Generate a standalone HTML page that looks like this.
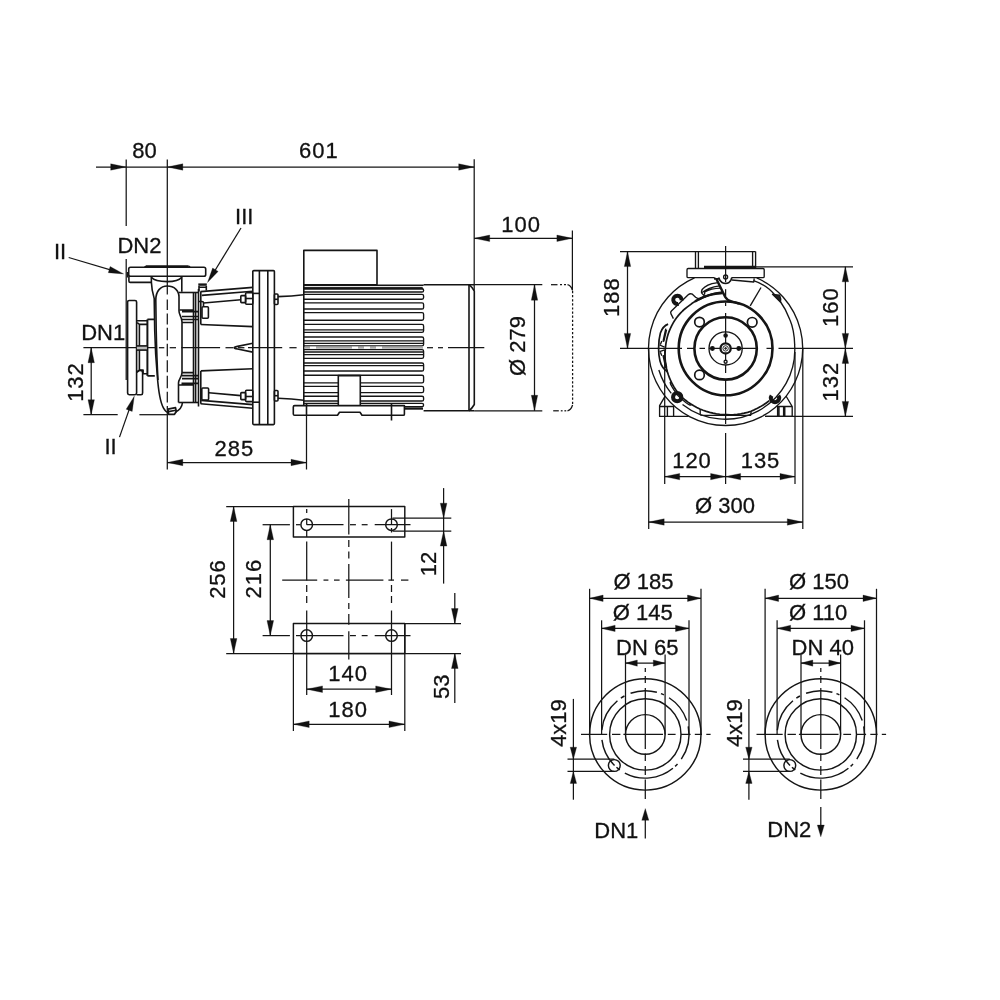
<!DOCTYPE html>
<html lang="en">
<head>
<meta charset="utf-8">
<title>Pump dimension drawing</title>
<style>
html,body{margin:0;padding:0;background:#fff;}
body{width:1000px;height:1000px;overflow:hidden;}
svg{display:block;filter:grayscale(1);}
svg line,svg path,svg circle,svg rect,svg polyline{fill:none;stroke:#151515;stroke-width:1.25;stroke-linecap:butt;stroke-linejoin:round;}
svg .a{fill:#111;stroke:#111;stroke-width:0.3;}
svg .b line,svg .b path,svg .b circle,svg .b rect{stroke-width:1.6;}
svg .bf line,svg .bf path,svg .bf circle,svg .bf rect{stroke-width:1.35;}
svg .b .f line,svg .b .f path{stroke-width:1.35;}
svg .k,svg .b .k{stroke-width:2.4;}
svg .m,svg .b .m{stroke-width:1.7;}
svg .t,svg .b .t{stroke-width:0.9;}
svg .w{fill:#fff;}
svg .c{stroke-width:1.45;}
svg .e{stroke-width:1.45;}
svg .g{stroke:#9a9a9a;}
svg text{font-family:"Liberation Sans",sans-serif;font-size:22px;fill:#111;stroke:#111;stroke-width:0.3;}
</style>
</head>
<body>
<svg width="1000" height="1000" viewBox="0 0 1000 1000">
<rect x="0" y="0" width="1000" height="1000" style="fill:#fff;stroke:none"/>
<g id="side">
<line x1="96" y1="167" x2="474.2" y2="167"/>
<polygon class="a" points="126.2,167 110.7,170.2 110.7,163.8"/>
<polygon class="a" points="167.3,167 182.8,163.8 182.8,170.2"/>
<polygon class="a" points="474.2,167 458.7,170.2 458.7,163.8"/>
<line x1="126.2" y1="159.5" x2="126.2" y2="226"/>
<line x1="126.2" y1="259" x2="126.2" y2="380"/>
<line x1="167.3" y1="159.5" x2="167.3" y2="294.6"/>
<line x1="167.3" y1="299.6" x2="167.3" y2="310"/>
<line x1="167.3" y1="313.4" x2="167.3" y2="324.4"/>
<line x1="167.3" y1="327.8" x2="167.3" y2="340.2"/>
<line x1="167.3" y1="343.8" x2="167.3" y2="356.2"/>
<line x1="167.3" y1="360.2" x2="167.3" y2="372.2"/>
<line x1="167.3" y1="375.8" x2="167.3" y2="388.2"/>
<line x1="167.3" y1="391.8" x2="167.3" y2="402.6"/>
<line x1="167.3" y1="406" x2="167.3" y2="469.5"/>
<line x1="474.2" y1="159.3" x2="474.2" y2="290"/>
<text x="144.4" y="157.5" text-anchor="middle">80</text>
<text x="318.9" y="157.7" text-anchor="middle" letter-spacing="1">601</text>
<line x1="474.2" y1="238.3" x2="572.4" y2="238.3"/>
<polygon class="a" points="474.2,238.3 489.7,235.1 489.7,241.5"/>
<polygon class="a" points="572.4,238.3 556.9,241.5 556.9,235.1"/>
<line x1="572.4" y1="230.5" x2="572.4" y2="290"/>
<text x="521.1" y="232.2" text-anchor="middle" letter-spacing="1">100</text>
<line x1="83.4" y1="347.7" x2="155.3" y2="347.7"/>
<line x1="158.9" y1="347.7" x2="164.3" y2="347.7"/>
<line x1="169.7" y1="347.7" x2="176" y2="347.7"/>
<line x1="181.4" y1="347.7" x2="220.1" y2="347.7"/>
<line x1="225.5" y1="347.7" x2="233" y2="347.7"/>
<line x1="238" y1="347.7" x2="244.4" y2="347.7"/>
<line x1="248" y1="347.7" x2="282.2" y2="347.7"/>
<line x1="289.4" y1="347.7" x2="296.6" y2="347.7"/>
<line x1="427" y1="347.7" x2="433" y2="347.7"/>
<line x1="438" y1="347.7" x2="443" y2="347.7"/>
<line x1="448" y1="347.7" x2="484.3" y2="347.7"/>
<line x1="91.2" y1="347.7" x2="91.2" y2="414.7"/>
<polygon class="a" points="91.2,347.7 94.4,362.7 88,362.7"/>
<polygon class="a" points="91.2,414.7 88,399.7 94.4,399.7"/>
<text x="83.2" y="382.5" text-anchor="middle" transform="rotate(-90 82.7 382.5)" letter-spacing="1">132</text>
<line x1="83.4" y1="414.7" x2="117.7" y2="414.7"/>
<line x1="139.4" y1="414.7" x2="167.3" y2="414.7"/>
<line x1="167.3" y1="462.5" x2="306.5" y2="462.5"/>
<polygon class="a" points="167.3,462.5 182.8,459.3 182.8,465.7"/>
<polygon class="a" points="306.5,462.5 291,465.7 291,459.3"/>
<line x1="306.5" y1="404" x2="306.5" y2="469.5"/>
<text x="234.3" y="455.5" text-anchor="middle" letter-spacing="1">285</text>
<line x1="474.2" y1="284.7" x2="542.3" y2="284.7"/>
<line x1="474.2" y1="410.8" x2="542.3" y2="410.8"/>
<line x1="534.5" y1="284.7" x2="534.5" y2="410.8"/>
<polygon class="a" points="534.5,284.7 537.7,300.2 531.3,300.2"/>
<polygon class="a" points="534.5,410.8 531.3,395.3 537.7,395.3"/>
<text x="525.4" y="346" text-anchor="middle" transform="rotate(-90 525.4 346)">&#216; 279</text>
<line x1="551" y1="284.7" x2="557.5" y2="284.7"/>
<line x1="560" y1="284.7" x2="562" y2="284.7"/>
<line x1="564" y1="284.7" x2="566" y2="284.7"/>
<path d="M567.5,284.7 Q571,285.5 572.6,290.5"/>
<line x1="572.6" y1="291" x2="572.6" y2="404.5" stroke-dasharray="2.2 1.9"/>
<line x1="553.2" y1="410.8" x2="558.8" y2="410.8"/>
<line x1="560.8" y1="410.8" x2="562.6" y2="410.8"/>
<line x1="564.4" y1="410.8" x2="566.2" y2="410.8"/>
<path d="M567.5,410.8 Q571,410 572.6,405"/>
<text x="60.1" y="258.6" text-anchor="middle">II</text>
<line x1="68.7" y1="257.5" x2="118" y2="272.2"/>
<polygon class="a" points="123.6,273.9 108.31,272.67 110.14,266.54"/>
<text x="244.2" y="223.6" text-anchor="middle">III</text>
<line x1="241" y1="228" x2="211" y2="277"/>
<polygon class="a" points="207.5,282.5 212.63,268.05 218.08,271.4"/>
<text x="110.5" y="454" text-anchor="middle">II</text>
<line x1="119.5" y1="437.1" x2="131" y2="404.4"/>
<polygon class="a" points="134.3,396.2 132.19,411.39 126.17,409.21"/>
<text x="139.4" y="252.5" text-anchor="middle">DN2</text>
<text x="103.2" y="339.7" text-anchor="middle">DN1</text>
<g class="b">
<path d="M146,266.2 L188.6,266.2" class="k" style="stroke-width:1.9"/>
<path d="M144.6,267.3 L146,266 M188.6,266 L190,267.3"/>
<rect x="128.7" y="267.3" width="77" height="9" rx="1.8"/>
<path d="M128.9,276.3 L128.9,281 Q128.9,282.4 130.3,282.4 L151.3,282.4"/>
<path d="M127.6,272 L127.6,277.5" style="stroke-width:1.6"/>
<path d="M151.3,276.3 L151.4,282.4 C151.6,288 152.6,293 154.2,298.4 L154.7,330 C155.2,350 156.3,365 157.3,376 C158.5,392 160,402 163.5,408 C165,411 166.5,412.3 168.5,412.8"/>
<path d="M151.3,277.3 C154,280.6 160,281.6 167.3,281.6 C174,281.6 179,280.6 181.8,277.2"/>
<line x1="181.8" y1="276.3" x2="181.8" y2="291.8"/>
<path d="M156.2,330 L155.8,300 C155.8,291 160.5,286 167.3,286 C174.2,286 179,290.5 179,297 L179,311 C179,315 182,317 182,322 L182,372.5 C182,377 178.5,379 178.5,383 L178.5,402.5"/>
<path d="M156.2,330 C156.6,350 157.2,366 158,380"/>
<path d="M182.5,402.5 C182,407 179,410.5 175.5,412"/>
<path d="M168,409.2 L175.5,407.6 L176.3,411.5 L174.5,414.3 L168.5,414.3 Z" class="m"/>
<line x1="168.5" y1="411.6" x2="175.8" y2="410.3"/>
<path d="M179,292.5 L198.5,292.5"/>
<path d="M179.5,310 L193.5,310 M182,311.6 L198.5,311.6 M182,316.5 L198.5,316.5 M182,319.5 L198.5,319.5 M182,322.5 L193.5,322.5"/>
<path d="M178.5,402.5 L198.5,402.5"/>
<path d="M178.5,385 L193.5,385 M181.5,383.4 L198.5,383.4 M182,378.6 L198.5,378.6 M182,375.6 L198.5,375.6 M182,372.6 L193.5,372.6"/>
<line x1="193.5" y1="292.5" x2="193.5" y2="402.5"/>
<line x1="195.6" y1="292.5" x2="195.6" y2="402.5"/>
<line x1="198.5" y1="289" x2="198.5" y2="406.5"/>
<path d="M198.3,284.6 L206.8,284.6" class="k"/>
<path d="M199,286 L199,291.5 M206.3,286 L206.3,290.6 M199,287.3 L206.3,287.3"/>
<path d="M200.5,291.6 L252.8,287.4 M201.8,295.4 L252.8,291.2 M203.6,303 L240.8,299.7"/>
<path d="M198.5,301.5 L202,301.5 Q203.5,301.5 203.5,303 L203.5,306"/>
<rect x="202" y="306.8" width="6.4" height="11.4" rx="1"/>
<line x1="200.8" y1="291.6" x2="200.8" y2="324.5"/>
<rect x="240.8" y="295.6" width="4.8" height="7" rx="0.8"/>
<rect x="245.6" y="292.8" width="7.2" height="11.4" rx="1"/>
<line x1="245.6" y1="298.5" x2="252.8" y2="298.5"/>
<path d="M200.8,324.5 L252.8,326.6 M200.8,370.9 L252.8,368.8"/>
<path d="M252.8,343.3 L237.5,346.4 Q230.5,347.7 237.5,349 L252.8,352.1"/>
<path d="M200.6,403.8 L252.8,408.2 M201.2,400.4 L252.8,404.6 M208.8,392.8 L240.8,395.6"/>
<rect x="201.8" y="388" width="6.8" height="12" rx="1"/>
<line x1="200.8" y1="370.9" x2="200.8" y2="403.8"/>
<rect x="240.8" y="392.6" width="4.8" height="7" rx="0.8"/>
<rect x="245.6" y="390.2" width="7.2" height="11.4" rx="1"/>
<line x1="245.6" y1="396.5" x2="252.8" y2="396.5"/>
<rect x="252.8" y="270.6" width="21.6" height="154" rx="1"/>
<line x1="259.4" y1="270.6" x2="259.4" y2="424.6"/>
<line x1="267.8" y1="270.6" x2="267.8" y2="424.6"/>
<line x1="252.8" y1="293.4" x2="259.4" y2="293.4"/>
<line x1="252.8" y1="402.2" x2="259.4" y2="402.2"/>
<rect x="274.4" y="294" width="3.6" height="10.5" rx="1"/>
<line x1="274.4" y1="299.3" x2="278" y2="299.3"/>
<rect x="274.4" y="390.5" width="3.6" height="10.5" rx="1"/>
<line x1="274.4" y1="395.7" x2="278" y2="395.7"/>
<path d="M278,296.6 Q292,296.4 303.8,294.8"/>
<path d="M278,398.2 Q292,398.6 303.8,400.2"/>
<rect x="127.6" y="300.5" width="9" height="94.2" rx="1.6"/>
<path d="M136.6,372.2 L139.6,370.3 L141.2,370.6 Q142.6,371 142.6,373 L142.6,393 Q142.6,394.7 141,394.7 L136.6,394.7"/>
<path d="M136.8,320.7 L147.4,320.7 M137.2,322.6 L139.4,324.4 L147.4,324.4 M139.4,324.4 L139.4,370.1 M137.2,371.8 L139.4,370.1 L143.1,370.1 L143.1,373.8 L147.4,373.8"/>
<path d="M147.4,319.4 L147.4,375.9" style="stroke-width:2"/>
<path d="M147.4,319.4 L154.4,319.4 M147.4,375.9 L154.8,375.9"/>
<rect x="136.9" y="345.9" width="10" height="4.2" class="g" style="fill:#bbb;stroke:none"/>
<line x1="136.9" y1="345.9" x2="147" y2="345.9"/>
<line x1="136.9" y1="350.1" x2="147" y2="350.1"/>
<rect x="303.8" y="250.4" width="73.2" height="34.4"/>
<line x1="303.8" y1="284.8" x2="303.8" y2="406"/>
<g class="f">
<path d="M303.8,288.7 L422,288.7 Q423.6,288.7 423.6,290.3 L423.6,290.4 Q423.6,292 422,292 L303.8,292"/>
<path d="M303.8,403.4 L422,403.4 Q423.6,403.4 423.6,405 L423.6,405.1 Q423.6,406.7 422,406.7 L303.8,406.7"/>
<path d="M303.8,294.4 L422,294.4 Q423.6,294.4 423.6,296 L423.6,297.6 Q423.6,299.2 422,299.2 L303.8,299.2"/>
<path d="M303.8,396.2 L422,396.2 Q423.6,396.2 423.6,397.8 L423.6,399.4 Q423.6,401 422,401 L303.8,401"/>
<path d="M303.8,302.8 L422,302.8 Q423.6,302.8 423.6,304.4 L423.6,307.4 Q423.6,309 422,309 L303.8,309"/>
<path d="M303.8,386.4 L422,386.4 Q423.6,386.4 423.6,388 L423.6,391 Q423.6,392.6 422,392.6 L303.8,392.6"/>
<path d="M303.8,312.6 L422,312.6 Q423.6,312.6 423.6,314.2 L423.6,318.6 Q423.6,320.2 422,320.2 L303.8,320.2"/>
<path d="M303.8,375.2 L422,375.2 Q423.6,375.2 423.6,376.8 L423.6,381.2 Q423.6,382.8 422,382.8 L303.8,382.8"/>
<path d="M303.8,324.4 L422,324.4 Q423.6,324.4 423.6,326 L423.6,330.8 Q423.6,332.4 422,332.4 L303.8,332.4"/>
<line x1="303.8" y1="329.8" x2="423.6" y2="329.8"/>
<path d="M303.8,363 L422,363 Q423.6,363 423.6,364.6 L423.6,369.4 Q423.6,371 422,371 L303.8,371"/>
<line x1="303.8" y1="365.6" x2="423.6" y2="365.6"/>
<path d="M303.8,337 L422,337 Q423.6,337 423.6,338.6 L423.6,344.2 Q423.6,345.8 422,345.8 L303.8,345.8"/>
<line x1="303.8" y1="340.8" x2="423.6" y2="340.8"/>
<line x1="303.8" y1="343.4" x2="423.6" y2="343.4"/>
<path d="M303.8,349.6 L422,349.6 Q423.6,349.6 423.6,351.2 L423.6,356.8 Q423.6,358.4 422,358.4 L303.8,358.4"/>
<line x1="303.8" y1="354.6" x2="423.6" y2="354.6"/>
<line x1="303.8" y1="352" x2="423.6" y2="352"/>
<line x1="303.8" y1="285.2" x2="423.6" y2="285.2"/>
<line x1="303.8" y1="287.4" x2="422.6" y2="287.4" style="stroke-width:1"/>
<line x1="303.8" y1="288.6" x2="423" y2="288.6" style="stroke-width:1.9"/>
<line x1="303.8" y1="406.7" x2="423" y2="406.7" style="stroke-width:1.2"/>
<line x1="405" y1="408.7" x2="423" y2="408.7" style="stroke-width:2"/>
</g>
<line x1="304.5" y1="347.7" x2="423" y2="347.7" class="g" style="stroke-width:2;stroke:#aaa"/>
<line x1="310" y1="347.7" x2="316" y2="347.7" style="stroke:#fff;stroke-width:2.2"/>
<line x1="352" y1="347.7" x2="358" y2="347.7" style="stroke:#fff;stroke-width:2.2"/>
<line x1="364" y1="347.7" x2="370" y2="347.7" style="stroke:#fff;stroke-width:2.2"/>
<line x1="376" y1="347.7" x2="382" y2="347.7" style="stroke:#fff;stroke-width:2.2"/>
<rect x="338.3" y="375.6" width="22" height="30.5" class="w"/>
<path d="M423.6,284.7 L474.2,284.7 M423.6,410.8 L474.2,410.8"/>
<line x1="469" y1="284.7" x2="469" y2="410.8"/>
<path d="M469,284.7 Q472,287 474.3,291 L474.3,404.5 Q472,408.5 469,410.8"/>
<path d="M294.6,405.6 L404.4,405.6 L404.4,414.2 Q404.4,415.3 403.3,415.3 L362,415.3 L360,412.2 L339.5,412.2 L337.5,415.3 L294.6,415.3 Q293.3,415.3 293.3,414 L293.3,406.9 Q293.3,405.6 294.6,405.6 Z" class="w"/>
<line x1="391.5" y1="404" x2="391.5" y2="420.5"/>
<line x1="306.5" y1="404" x2="306.5" y2="415"/>
</g></g>
<g id="front">
<line x1="620" y1="251.6" x2="755.6" y2="251.6"/>
<line x1="620" y1="348.4" x2="682" y2="348.4"/>
<line x1="627.5" y1="251.6" x2="627.5" y2="348.4"/>
<polygon class="a" points="627.5,251.6 630.7,266.6 624.3,266.6"/>
<polygon class="a" points="627.5,348.4 624.3,333.4 630.7,333.4"/>
<text x="619.6" y="297.7" text-anchor="middle" transform="rotate(-90 619.1 297.7)" letter-spacing="1">188</text>
<line x1="687" y1="348.4" x2="694" y2="348.4"/>
<line x1="699.5" y1="348.4" x2="705" y2="348.4"/>
<line x1="709" y1="348.4" x2="758" y2="348.4"/>
<line x1="766.5" y1="348.4" x2="772.5" y2="348.4"/>
<line x1="778.5" y1="348.4" x2="853" y2="348.4"/>
<line x1="755" y1="266.8" x2="853" y2="266.8"/>
<line x1="765" y1="416.4" x2="853" y2="416.4"/>
<line x1="845.4" y1="266.8" x2="845.4" y2="348.4"/>
<polygon class="a" points="845.4,266.8 848.6,281.8 842.2,281.8"/>
<polygon class="a" points="845.4,348.4 842.2,333.4 848.6,333.4"/>
<line x1="845.4" y1="348.4" x2="845.4" y2="416.4"/>
<polygon class="a" points="845.4,348.4 848.6,363.4 842.2,363.4"/>
<polygon class="a" points="845.4,416.4 842.2,401.4 848.6,401.4"/>
<text x="838.1" y="307.7" text-anchor="middle" transform="rotate(-90 837.6 307.7)" letter-spacing="1">160</text>
<text x="838.1" y="382.2" text-anchor="middle" transform="rotate(-90 837.6 382.2)" letter-spacing="1">132</text>
<line x1="725.6" y1="246" x2="725.6" y2="282"/>
<line x1="725.6" y1="289.2" x2="725.6" y2="298"/>
<line x1="725.6" y1="302.4" x2="725.6" y2="306"/>
<line x1="725.6" y1="313" x2="725.6" y2="362.5"/>
<line x1="725.6" y1="365" x2="725.6" y2="373"/>
<line x1="725.6" y1="380" x2="725.6" y2="424"/>
<line x1="725.6" y1="433" x2="725.6" y2="484"/>
<line x1="648.7" y1="348.4" x2="648.7" y2="529"/>
<line x1="802.8" y1="348.4" x2="802.8" y2="529"/>
<line x1="664.7" y1="350" x2="664.7" y2="484"/>
<line x1="795" y1="352" x2="795" y2="484"/>
<line x1="664.7" y1="476.6" x2="725.6" y2="476.6"/>
<polygon class="a" points="664.7,476.6 679.7,473.4 679.7,479.8"/>
<polygon class="a" points="725.6,476.6 710.6,479.8 710.6,473.4"/>
<line x1="725.6" y1="476.6" x2="795" y2="476.6"/>
<polygon class="a" points="725.6,476.6 740.6,473.4 740.6,479.8"/>
<polygon class="a" points="795,476.6 780,479.8 780,473.4"/>
<line x1="648.7" y1="522" x2="802.8" y2="522"/>
<polygon class="a" points="648.7,522 664.2,518.8 664.2,525.2"/>
<polygon class="a" points="802.8,522 787.3,525.2 787.3,518.8"/>
<text x="692" y="468.2" text-anchor="middle" letter-spacing="1">120</text>
<text x="760.5" y="468.2" text-anchor="middle" letter-spacing="1">135</text>
<text x="725" y="513.2" text-anchor="middle">&#216; 300</text>
<g class="b bf">
<path d="M756.71,277.86 A77.1,77.1 0 1 1 694.49,277.86"/>
<circle cx="725.6" cy="348.4" r="46.9" class="k" style="stroke-width:2.6"/>
<circle cx="725.6" cy="348.4" r="31.2" class="k" style="stroke-width:2.6"/>
<circle cx="725.6" cy="348.4" r="16.6"/>
<circle cx="725.6" cy="348.4" r="5.1" class="w" style="stroke-width:2.3"/>
<circle cx="725.6" cy="348.4" r="2.7" class="t"/>
<circle cx="725.6" cy="348.4" r="0.9" class="t" style="fill:#333"/>
<circle cx="725.6" cy="335.4" r="1.6" style="fill:#111"/>
<circle cx="712.4" cy="348.4" r="1.8" style="fill:#111"/>
<circle cx="738.8" cy="348.4" r="1.8" style="fill:#111"/>
<circle cx="725.6" cy="361.7" r="1.5" class="w"/>
<circle cx="699.5" cy="322.1" r="4.8" class="m"/>
<circle cx="752.2" cy="322.3" r="4.8" class="m"/>
<circle cx="699.5" cy="374.9" r="4.8" class="m"/>
<path d="M794.63,344.85 A69.5,69.5 0 0 1 682.51,404.47"/>
<path d="M671.29,393.44 A69.5,69.5 0 0 1 658.84,370.02"/>
<path d="M794.7,345 C794.4,335 792.6,326 790,320 C787,312 784,306.5 780,301 C776,296 772.5,292 769,289 C764,285 759,282.3 753.5,280.6"/>
<line x1="761" y1="287.5" x2="750.2" y2="305.8"/>
<path d="M772.5,294.3 L779.6,295.2 Q781.3,298.5 780.4,302 Z" style="fill:#222"/>
<path d="M721.74,293.14 L718.84,293.36 L715.96,293.72 L713.09,294.23 L710.26,294.9 L707.46,295.71 L704.7,296.67 L701.99,297.77 L699.34,299.02 L696.76,300.4 L694.25,301.92 L691.82,303.57 L689.48,305.35 L687.09,307.1 L684.78,308.99 L682.57,311 L680.46,313.13 L678.46,315.39 L676.57,317.76 L674.81,320.25 L673.21,322.85 L671.74,325.54 L670.41,328.31 L669.22,331.16 L668.18,334.08 L667.3,337.07 L666.57,340.1 L665.99,343.19 L665.58,346.3 L665.29,349.45 L665.09,352.63 L665.05,355.84 L665.18,359.05 L665.48,362.28 L665.95,365.5 L666.6,368.71 L667.43,371.9 L668.42,375.06 L669.59,378.18 L670.93,381.25 L672.43,384.26 L674.11,387.2 L675.94,390.07 L677.94,392.85 L680.16,395.46 L682.65,397.81 L685.26,400.03 L687.99,402.12 L690.82,404.06 L693.76,405.85 L696.78,407.48 L699.89,408.96 L703.08,410.27 L706.33,411.42 L709.64,412.39 L713.01,413.19 L716.41,413.81 L719.84,414.26 L723.29,414.52 L726.76,414.66 L730.24,414.74 L733.73,414.63 L737.23,414.33 L740.71,413.85 L744.18,413.19 L747.62,412.34 L750.98,411.21 L754.25,409.85 L757.46,408.32 L760.58,406.62 L763.61,404.76 L766.55,402.74 L769.37,400.57" class="m"/>
<path d="M722.7,293.11 L719.81,293.27 L716.92,293.58 L714.05,294.04 L711.2,294.66 L708.39,295.42 L705.61,296.33 L702.89,297.39 L700.22,298.59 L697.61,299.92 L695.08,301.4" class="k"/>
<path d="M688.99,404.77 L686.12,402.73 L683.37,400.55 L680.73,398.23 L678.22,395.78 L676.07,393 L674.07,390.13 L672.24,387.17 L670.57,384.14 l-0.4,-2.2"/>
<path d="M688.99,404.77 l1.8,0.4 l0.8,-1"/>
<path d="M716.4,279 L725.2,297 Q727.2,300.4 732,301.6 Q736,302.6 739,303.6" class="k"/>
<path d="M695.5,251.6 L695.5,268.4 M698.4,251.6 L698.4,268.4 M752.6,251.6 L752.6,268.4 M755.6,251.6 L755.6,268.4"/>
<path d="M704,266.9 L755.6,266.9" class="k"/>
<path d="M688.2,268.5 L763,268.5 Q764.2,268.5 764.2,269.7 L764.2,276.4 Q764.2,277.6 763,277.6 L731.5,277.6 M714.5,277.6 L688.2,277.6 Q687,277.6 687,276.4 L687,269.7 Q687,268.5 688.2,268.5"/>
<circle cx="725.6" cy="277" r="2"/>
<path d="M714.8,277.6 L714.8,278.9 L718.8,278.9 M718.6,277.6 Q719.6,281 722,282.4 Q725.6,284.4 729,282.4 Q731.2,281 731.8,277.6" class="m"/>
<path d="M732,280 L753.8,282 L754.2,278.4"/>
<path d="M701.5,291 Q703,286.5 712,283.6 L718,282.6 M702.2,292.6 Q708,287.5 719.5,285.8 M704.5,294.6 L704.8,291.8 Q711,288.6 720.5,288.2 M701.5,291 Q700.8,292.8 703,294.6 L705,296.5"/>
<path d="M699,299.8 Q709,293.6 722.3,292.2" class="m"/>
<path d="M673.4,318.6 L670.9,313.6 Q670.2,312.2 671.4,311 L688.2,294.8 Q690.2,293 692.4,294.2 L695.6,297.2 Q697.4,298.6 700.2,298.6"/>
<path d="M678.47,303.81 A4.15,4.15 0 1 1 681.49,300.52" style="stroke-width:4"/>
<circle cx="677.2" cy="397.2" r="4.15" style="stroke-width:4"/>
<path d="M778.4,395.62 A4.15,4.15 0 1 1 771.6,395.62" style="stroke-width:4"/>
<path d="M668.1,324.1 C664,325.5 661.8,329 660.4,333 C659,338 658.6,344 658.6,348.4 C658.6,353 659.2,358 660,361 C661,365 663.2,369 667.4,371.7" class="m"/>
<path d="M665.8,328.6 L663.2,340.4 Q662.9,341.6 663.9,341 L666.6,329.6 M665.8,368.2 L663.2,356.4 Q662.9,355.2 663.9,355.8 L666.6,367.2"/>
<path d="M659.6,345 L664.6,347.2 M659.6,351.6 L664.6,349.8 M661.8,341 L660.4,344.6 M661.8,355.8 L660.4,352.2"/>
<path d="M688.6,416.4 L659.6,416.4 L659.6,405.6 L665,396.4"/>
<path d="M659.6,406.5 L673.6,406.5 L673.6,416.4 M667.4,406.5 L667.4,416.4"/>
<path d="M765,416.4 L792.2,416.4 M786,396 L792.2,406.5 L792.2,416.4 M777.6,416.4 L777.6,406.5 L792.2,406.5 M779,406.5 L779,416.4 M783.6,406.5 L783.6,416.4 M784.8,406.5 L784.8,416.4"/>
<path d="M700.2,409 L700.2,413.8 Q700.2,415.4 702,415.4 L750.6,415.4 L751.2,411.4"/>
</g></g>
<g id="foot">
<rect x="293.4" y="506.5" width="111.4" height="30.4" class="e"/>
<rect x="293.4" y="623.5" width="111.4" height="30" class="e"/>
<circle cx="306.7" cy="524.7" r="5.8" class="e"/>
<circle cx="306.7" cy="635.6" r="5.8" class="e"/>
<circle cx="391.5" cy="524.7" r="5.8" class="e"/>
<circle cx="391.5" cy="635.6" r="5.8" class="e"/>
<line x1="226.2" y1="506.5" x2="293.4" y2="506.5"/>
<line x1="226.2" y1="653.5" x2="461" y2="653.5"/>
<line x1="233.6" y1="506.5" x2="233.6" y2="653.5"/>
<polygon class="a" points="233.6,506.5 236.9,521.5 230.3,521.5"/>
<polygon class="a" points="233.6,653.5 230.3,638.5 236.9,638.5"/>
<text x="225.1" y="579.5" text-anchor="middle" transform="rotate(-90 224.6 579.5)" letter-spacing="1">256</text>
<line x1="262.6" y1="524.7" x2="289.9" y2="524.7"/>
<line x1="262.6" y1="635.6" x2="289.9" y2="635.6"/>
<line x1="270.3" y1="524.7" x2="270.3" y2="635.6"/>
<polygon class="a" points="270.3,524.7 273.6,539.7 267,539.7"/>
<polygon class="a" points="270.3,635.6 267,620.6 273.6,620.6"/>
<text x="261.9" y="579.2" text-anchor="middle" transform="rotate(-90 261.4 579.2)" letter-spacing="1">216</text>
<line x1="296" y1="524.7" x2="300.4" y2="524.7"/>
<line x1="306.7" y1="524.7" x2="343.5" y2="524.7"/>
<line x1="350" y1="524.7" x2="355.9" y2="524.7"/>
<line x1="361.7" y1="524.7" x2="367.6" y2="524.7"/>
<line x1="374.7" y1="524.7" x2="410.5" y2="524.7"/>
<line x1="296" y1="635.6" x2="300.4" y2="635.6"/>
<line x1="300.8" y1="635.6" x2="343.5" y2="635.6"/>
<line x1="350" y1="635.6" x2="355.9" y2="635.6"/>
<line x1="361.7" y1="635.6" x2="367.6" y2="635.6"/>
<line x1="374.7" y1="635.6" x2="410.5" y2="635.6"/>
<line x1="282.2" y1="580.1" x2="317.2" y2="580.1"/>
<line x1="323.5" y1="580.1" x2="328.4" y2="580.1"/>
<line x1="334" y1="580.1" x2="339.6" y2="580.1"/>
<line x1="345.9" y1="580.1" x2="383.4" y2="580.1"/>
<line x1="388.4" y1="580.1" x2="394" y2="580.1"/>
<line x1="401" y1="580.1" x2="408.4" y2="580.1"/>
<line x1="348.8" y1="498.9" x2="348.8" y2="534.6"/>
<line x1="348.8" y1="540" x2="348.8" y2="547"/>
<line x1="348.8" y1="551.4" x2="348.8" y2="558.4"/>
<line x1="348.8" y1="564" x2="348.8" y2="598"/>
<line x1="348.8" y1="603" x2="348.8" y2="609"/>
<line x1="348.8" y1="614" x2="348.8" y2="624.7"/>
<line x1="348.8" y1="631.3" x2="348.8" y2="659.5"/>
<line x1="306.7" y1="509.1" x2="306.7" y2="513"/>
<line x1="306.7" y1="518.9" x2="306.7" y2="524.7"/>
<line x1="306.7" y1="530.6" x2="306.7" y2="536.9"/>
<line x1="306.7" y1="541.6" x2="306.7" y2="580.4"/>
<line x1="306.7" y1="585" x2="306.7" y2="592"/>
<line x1="306.7" y1="596" x2="306.7" y2="603"/>
<line x1="306.7" y1="610.5" x2="306.7" y2="695"/>
<line x1="391.5" y1="509.1" x2="391.5" y2="524.7"/>
<line x1="391.5" y1="528" x2="391.5" y2="532.5"/>
<line x1="391.5" y1="541.6" x2="391.5" y2="580.4"/>
<line x1="391.5" y1="585" x2="391.5" y2="592"/>
<line x1="391.5" y1="596" x2="391.5" y2="603"/>
<line x1="391.5" y1="610.5" x2="391.5" y2="695"/>
<line x1="306.7" y1="689.2" x2="391.5" y2="689.2"/>
<polygon class="a" points="306.7,689.2 322.5,685.9 322.5,692.5"/>
<polygon class="a" points="391.5,689.2 375.7,692.5 375.7,685.9"/>
<text x="348.2" y="681.4" text-anchor="middle" letter-spacing="1">140</text>
<line x1="293.4" y1="653.5" x2="293.4" y2="731"/>
<line x1="404.8" y1="623.5" x2="404.8" y2="731"/>
<line x1="293.4" y1="724.3" x2="404.8" y2="724.3"/>
<polygon class="a" points="293.4,724.3 309.2,721 309.2,727.6"/>
<polygon class="a" points="404.8,724.3 389,727.6 389,721"/>
<text x="348.2" y="716.9" text-anchor="middle" letter-spacing="1">180</text>
<line x1="392.5" y1="518.2" x2="451.3" y2="518.2"/>
<line x1="392.5" y1="531.1" x2="451.3" y2="531.1"/>
<line x1="443.6" y1="488.1" x2="443.6" y2="583.6"/>
<polygon class="a" points="443.6,518.2 440.3,503.2 446.9,503.2"/>
<polygon class="a" points="443.6,531.1 446.9,546.1 440.3,546.1"/>
<text x="436.4" y="564" text-anchor="middle" transform="rotate(-90 436.4 564)">12</text>
<line x1="404.8" y1="623.5" x2="461" y2="623.5"/>
<line x1="454.8" y1="593.1" x2="454.8" y2="623.5"/>
<line x1="454.8" y1="653.5" x2="454.8" y2="703"/>
<polygon class="a" points="454.8,623.5 451.5,608.5 458.1,608.5"/>
<polygon class="a" points="454.8,653.5 458.1,668.5 451.5,668.5"/>
<text x="449" y="686.7" text-anchor="middle" transform="rotate(-90 449 686.7)">53</text>
</g>
<g id="flanges">
<g>
<circle cx="645.3" cy="734.4" r="55.7" class="c"/>
<circle cx="645.3" cy="734.4" r="35.7" class="c"/>
<circle cx="645.3" cy="734.4" r="19.8" class="c"/>
<path d="M630.57,693.26 A43.7,43.7 0 0 1 656.9,692.27" class="c"/>
<path d="M660.96,693.6 A43.7,43.7 0 0 1 663.91,694.86" class="c"/>
<path d="M669.1,697.75 A43.7,43.7 0 0 1 686.74,720.53" class="c"/>
<path d="M688.25,726.36 A43.7,43.7 0 0 1 681.31,759.15" class="c"/>
<path d="M677.52,763.92 A43.7,43.7 0 0 1 675.1,766.36" class="c"/>
<path d="M672.92,768.27 A43.7,43.7 0 0 1 624.85,773.02" class="c"/>
<path d="M619.8,769.89 A43.7,43.7 0 0 1 616.46,767.23" class="c"/>
<path d="M614.56,765.46 A43.7,43.7 0 0 1 601.94,739.8" class="c"/>
<path d="M601.8,730.21 A43.7,43.7 0 0 1 617.44,700.73" class="c"/>
<path d="M620.86,698.17 A43.7,43.7 0 0 1 624.45,696" class="c"/>
<circle cx="614.3" cy="765.5" r="5.9" class="c"/>
<line x1="589.6" y1="588.8" x2="589.6" y2="734.4"/>
<line x1="701" y1="588.8" x2="701" y2="734.4"/>
<line x1="589.6" y1="598.3" x2="701" y2="598.3"/>
<polygon class="a" points="589.6,598.3 603.1,595.1 603.1,601.5"/>
<polygon class="a" points="701,598.3 687.5,601.5 687.5,595.1"/>
<text x="643.5" y="589.4" text-anchor="middle">&#216; 185</text>
<line x1="601.6" y1="620.3" x2="601.6" y2="734.4"/>
<line x1="689" y1="620.3" x2="689" y2="734.4"/>
<line x1="601.6" y1="628.4" x2="689" y2="628.4"/>
<polygon class="a" points="601.6,628.4 615.1,625.2 615.1,631.6"/>
<polygon class="a" points="689,628.4 675.5,631.6 675.5,625.2"/>
<text x="642.7" y="619.5" text-anchor="middle">&#216; 145</text>
<line x1="625.5" y1="654.5" x2="625.5" y2="734.4"/>
<line x1="665.1" y1="654.5" x2="665.1" y2="734.4"/>
<line x1="625.5" y1="663.1" x2="665.1" y2="663.1"/>
<polygon class="a" points="625.5,663.1 637.3,660 637.3,666.2"/>
<polygon class="a" points="665.1,663.1 653.3,666.2 653.3,660"/>
<text x="647.3" y="655.1" text-anchor="middle">DN 65</text>
<line x1="645.3" y1="668" x2="645.3" y2="672"/>
<line x1="645.3" y1="676" x2="645.3" y2="683"/>
<line x1="645.3" y1="688" x2="645.3" y2="749"/>
<line x1="645.3" y1="753.5" x2="645.3" y2="761"/>
<line x1="645.3" y1="766" x2="645.3" y2="775"/>
<line x1="645.3" y1="779.5" x2="645.3" y2="799"/>
<line x1="581" y1="734.4" x2="607.2" y2="734.4"/>
<line x1="612" y1="734.4" x2="620.4" y2="734.4"/>
<line x1="623.4" y1="734.4" x2="663" y2="734.4"/>
<line x1="667.8" y1="734.4" x2="675.6" y2="734.4"/>
<line x1="681" y1="734.4" x2="690.6" y2="734.4"/>
<line x1="694.8" y1="734.4" x2="702" y2="734.4"/>
<line x1="706.3" y1="734.4" x2="710.6" y2="734.4"/>
<line x1="567.5" y1="759.2" x2="614.3" y2="759.2"/>
<line x1="567.5" y1="771.4" x2="614.3" y2="771.4"/>
<line x1="573.4" y1="698.9" x2="573.4" y2="799.7"/>
<polygon class="a" points="573.4,759.2 570.2,747.2 576.6,747.2"/>
<polygon class="a" points="573.4,771.4 576.6,783.4 570.2,783.4"/>
<text x="566.2" y="723" text-anchor="middle" transform="rotate(-90 566.2 723)">4x19</text>
<line x1="645.3" y1="815" x2="645.3" y2="838.4"/>
<polygon class="a" points="645.3,808.6 648.8,820.3 641.8,820.3"/>
<text x="616.3" y="837.6" text-anchor="middle">DN1</text>
</g>
<g>
<circle cx="820.8" cy="734.4" r="55.7" class="c"/>
<circle cx="820.8" cy="734.4" r="35.7" class="c"/>
<circle cx="820.8" cy="734.4" r="19.8" class="c"/>
<path d="M806.07,693.26 A43.7,43.7 0 0 1 832.4,692.27" class="c"/>
<path d="M836.46,693.6 A43.7,43.7 0 0 1 839.41,694.86" class="c"/>
<path d="M844.6,697.75 A43.7,43.7 0 0 1 862.24,720.53" class="c"/>
<path d="M863.75,726.36 A43.7,43.7 0 0 1 856.81,759.15" class="c"/>
<path d="M853.02,763.92 A43.7,43.7 0 0 1 850.6,766.36" class="c"/>
<path d="M848.42,768.27 A43.7,43.7 0 0 1 800.35,773.02" class="c"/>
<path d="M795.3,769.89 A43.7,43.7 0 0 1 791.96,767.23" class="c"/>
<path d="M790.06,765.46 A43.7,43.7 0 0 1 777.44,739.8" class="c"/>
<path d="M777.3,730.21 A43.7,43.7 0 0 1 792.94,700.73" class="c"/>
<path d="M796.36,698.17 A43.7,43.7 0 0 1 799.95,696" class="c"/>
<circle cx="789.8" cy="765.5" r="5.9" class="c"/>
<line x1="765.1" y1="588.8" x2="765.1" y2="734.4"/>
<line x1="876.5" y1="588.8" x2="876.5" y2="734.4"/>
<line x1="765.1" y1="598.3" x2="876.5" y2="598.3"/>
<polygon class="a" points="765.1,598.3 778.6,595.1 778.6,601.5"/>
<polygon class="a" points="876.5,598.3 863,601.5 863,595.1"/>
<text x="819" y="589.4" text-anchor="middle">&#216; 150</text>
<line x1="777.1" y1="620.3" x2="777.1" y2="734.4"/>
<line x1="864.5" y1="620.3" x2="864.5" y2="734.4"/>
<line x1="777.1" y1="628.4" x2="864.5" y2="628.4"/>
<polygon class="a" points="777.1,628.4 790.6,625.2 790.6,631.6"/>
<polygon class="a" points="864.5,628.4 851,631.6 851,625.2"/>
<text x="818.2" y="619.5" text-anchor="middle">&#216; 110</text>
<line x1="801" y1="654.5" x2="801" y2="734.4"/>
<line x1="840.6" y1="654.5" x2="840.6" y2="734.4"/>
<line x1="801" y1="663.1" x2="840.6" y2="663.1"/>
<polygon class="a" points="801,663.1 812.8,660 812.8,666.2"/>
<polygon class="a" points="840.6,663.1 828.8,666.2 828.8,660"/>
<text x="822.8" y="655.1" text-anchor="middle">DN 40</text>
<line x1="820.8" y1="668" x2="820.8" y2="672"/>
<line x1="820.8" y1="676" x2="820.8" y2="683"/>
<line x1="820.8" y1="688" x2="820.8" y2="749"/>
<line x1="820.8" y1="753.5" x2="820.8" y2="761"/>
<line x1="820.8" y1="766" x2="820.8" y2="775"/>
<line x1="820.8" y1="779.5" x2="820.8" y2="799"/>
<line x1="756.5" y1="734.4" x2="782.7" y2="734.4"/>
<line x1="787.5" y1="734.4" x2="795.9" y2="734.4"/>
<line x1="798.9" y1="734.4" x2="838.5" y2="734.4"/>
<line x1="843.3" y1="734.4" x2="851.1" y2="734.4"/>
<line x1="856.5" y1="734.4" x2="866.1" y2="734.4"/>
<line x1="870.3" y1="734.4" x2="877.5" y2="734.4"/>
<line x1="881.8" y1="734.4" x2="886.1" y2="734.4"/>
<line x1="743" y1="759.2" x2="789.8" y2="759.2"/>
<line x1="743" y1="771.4" x2="789.8" y2="771.4"/>
<line x1="748.9" y1="698.9" x2="748.9" y2="799.7"/>
<polygon class="a" points="748.9,759.2 745.7,747.2 752.1,747.2"/>
<polygon class="a" points="748.9,771.4 752.1,783.4 745.7,783.4"/>
<text x="741.7" y="723" text-anchor="middle" transform="rotate(-90 741.7 723)">4x19</text>
<line x1="820.8" y1="806.9" x2="820.8" y2="830"/>
<polygon class="a" points="820.8,836.8 817.3,825.1 824.3,825.1"/>
<text x="789.3" y="837.2" text-anchor="middle">DN2</text>
</g>
</g>
</svg>
</body>
</html>
